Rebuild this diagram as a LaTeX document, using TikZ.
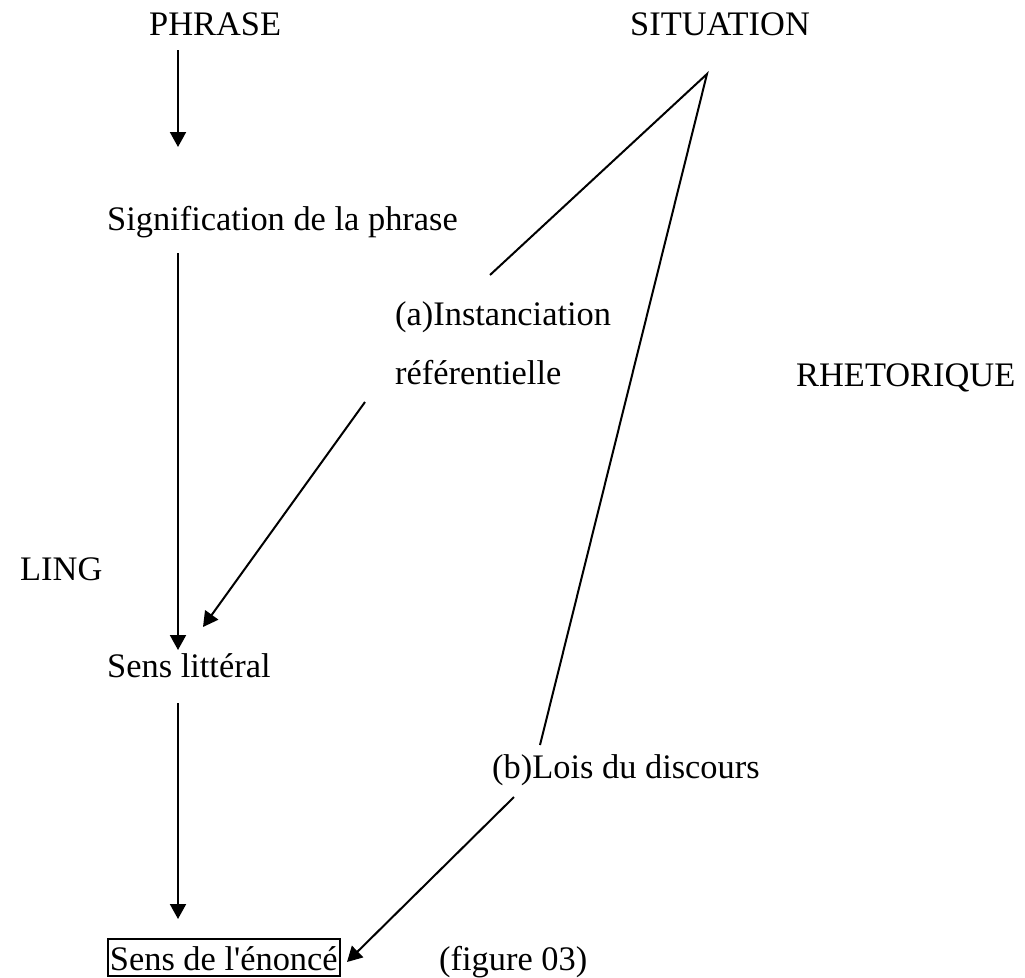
\documentclass[tikz,border=0pt]{standalone}
\usepackage{fontspec}
\setmainfont{Liberation Serif}[Ligatures=TeXOff]
\usetikzlibrary{arrows.meta}
\begin{document}
\begin{tikzpicture}[x=1pt,y=-1pt,
  lbl/.style={anchor=base west,inner sep=0pt,font=\fontsize{34.4}{40}\selectfont},
  link/.style={line width=2pt},
  flow/.style={link,-{Triangle[length=15pt,width=16pt]}},
  framed/.style={lbl,draw,line width=1.8pt,inner xsep=2pt,inner ysep=0pt,text height=31pt,text depth=6pt}
]
\useasboundingbox (0,0) rectangle (1025,977);

% labels
\node[lbl] (phrase) at (149,35) {PHRASE};
\node[lbl] (situation) at (630,35) {SITUATION};
\node[lbl] (signif) at (107,230) {Signification de la phrase};
\node[lbl] (instA) at (395,325) {(a)Instanciation};
\node[lbl] (instB) at (395,384) {référentielle};
\node[lbl] (rhet) at (796,386) {RHETORIQUE};
\node[lbl] (ling) at (20,580) {LING};
\node[lbl] (litteral) at (107,677) {Sens littéral};
\node[lbl] (lois) at (492,778) {(b)Lois du discours};
\node[framed] (enonce) at (107,970) {Sens de l'énoncé};
\node[lbl] (fig) at (439,970) {(figure 03)};

% connector end points
\coordinate (apex) at (707,74);
\coordinate (aEnd) at (490,275);
\coordinate (bEnd) at (540,745);
\coordinate (p0) at (178,50);
\coordinate (p1) at (178,147);
\coordinate (s0) at (178,253);
\coordinate (s1) at (178,650);
\coordinate (l0) at (178,703);
\coordinate (l1) at (178,919);
\coordinate (r0) at (365,402);
\coordinate (r1) at (203,627);
\coordinate (d0) at (514,797);
\coordinate (d1) at (347,962);

% main column
\draw[flow] (p0) -- (p1);
\draw[flow] (s0) -- (s1);
\draw[flow] (l0) -- (l1);

% situation branches
\draw[link] (aEnd) -- (apex) -- (bEnd);

% side arrows
\draw[flow] (r0) -- (r1);
\draw[flow] (d0) -- (d1);
\end{tikzpicture}
\end{document}
